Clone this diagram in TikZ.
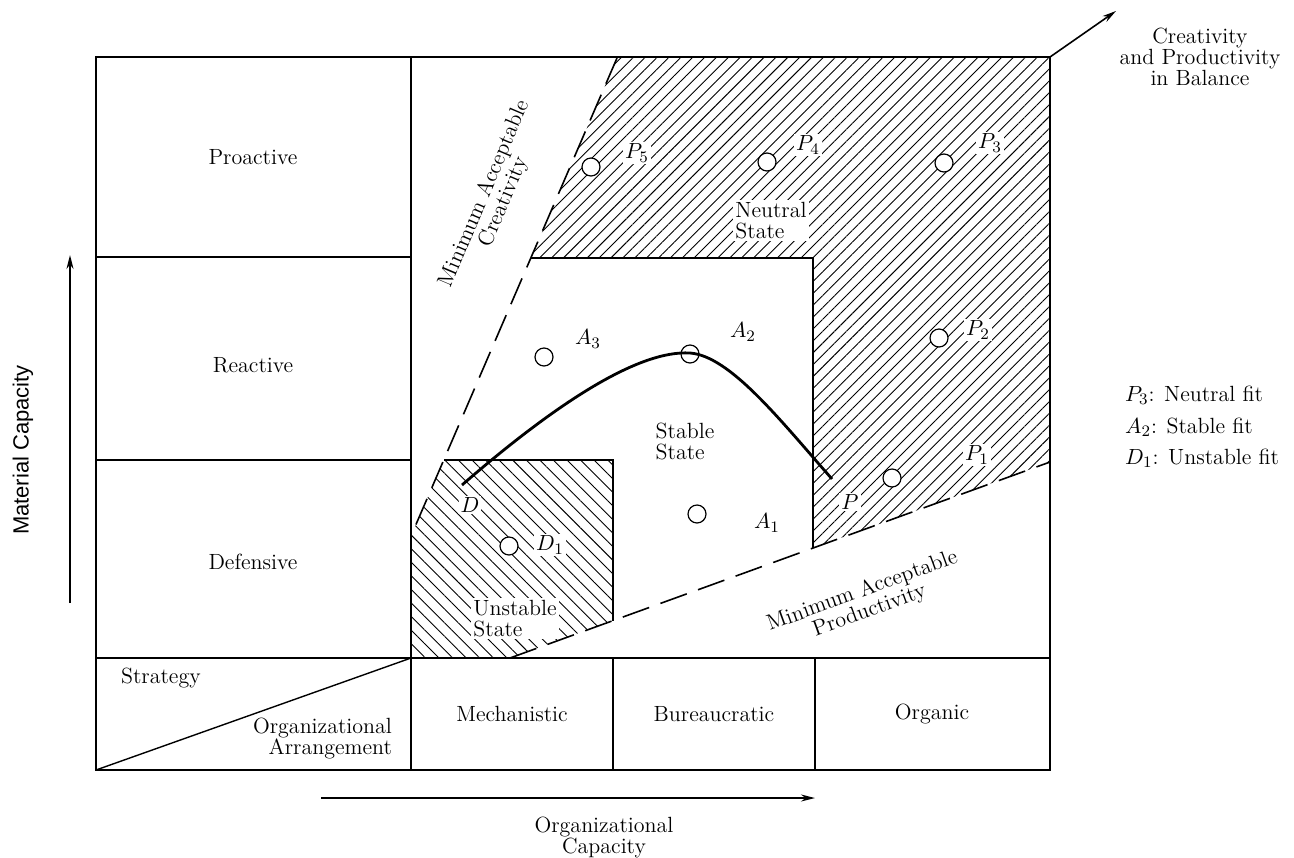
\documentclass[tikz,border=0pt]{standalone}
\usepackage{fontspec}
\newfontfamily\labsans{Liberation Sans}
\usetikzlibrary{arrows.meta,patterns.meta}
\begin{document}
\begin{tikzpicture}[x=0.5pt,y=-0.5pt,
  font=\fontsize{11}{10.5}\selectfont,
  frame/.style={line width=1pt},
  grid/.style={line width=0.7pt},
  bound/.style={line width=0.8pt},
  limit/.style={line width=0.8pt,dash pattern=on 14pt off 6pt},
  hatchA/.style={pattern={Lines[angle=45,distance=4.2pt,line width=0.45pt]}},
  hatchB/.style={pattern={Lines[angle=-45,distance=4.8pt,line width=0.45pt]}},
  pt/.style={circle,draw,fill=white,line width=0.6pt,minimum size=9pt,inner sep=0pt},
  dotpt/.style={pt,path picture={\fill (path picture bounding box.center) circle (1.2pt);}},
  lab/.style={inner sep=1pt},
  wlab/.style={inner sep=1pt,fill=white},
  axis/.style={line width=0.8pt,-{Stealth[length=7pt,width=3.5pt]}}]
\useasboundingbox (0,0) rectangle (1294,857);

% hatched regions
\fill[hatchA] (617,58) -- (1050,58) -- (1050,462) -- (813,548) -- (813,258) -- (531,258) -- cycle;
\fill[hatchB] (411,536) -- (444,460) -- (613,460) -- (613,620.6) -- (510,658) -- (411,658) -- cycle;

% frame and grid
\draw[frame] (96,57) rectangle (1050,770);
\draw[grid] (411,57) -- (411,770);
\draw[grid] (96,257) -- (411,257);
\draw[grid] (96,460) -- (411,460);
\draw[grid] (96,658) -- (1050,658);
\draw[grid] (613,658) -- (613,770);
\draw[grid] (815,658) -- (815,770);
\draw[grid] (96,770) -- (411,658);

% region boundaries
\draw[bound] (531,258) -- (813,258) -- (813,548);
\draw[bound] (444,460) -- (613,460) -- (613,620.6);

% limit lines
\coordinate (c1) at (617,58);
\coordinate (c2) at (411,536);
\coordinate (q1) at (510,658);
\coordinate (q2) at (1050,462);
\draw[limit] (c1) -- (c2);
\draw[limit] (q1) -- (q2);

% curve
\draw[line width=1.4pt] (462,485) .. controls (560,400) and (640,350) .. (690,353)
  .. controls (730,356) and (780,420) .. (832,479);

% points
\node[pt] (p5) at (591,167) {};
\node[pt] (p4) at (767,162) {};
\node[dotpt] (p3) at (944,163) {};
\node[pt] (p2) at (939,338) {};
\node[pt] (p1) at (892,478) {};
\node[pt] (a3) at (544,357) {};
\node[pt,fill=none] (a2) at (690,354) {};
\node[pt] (a1) at (697,514) {};
\node[dotpt] (d1) at (509,546) {};

% point labels
\node[wlab] (lp5) at (637,153) {$P_5$};
\node[wlab] (lp4) at (808,145) {$P_4$};
\node[wlab] (lp3) at (990,143) {$P_3$};
\node[wlab] (lp2) at (978,330) {$P_2$};
\node[wlab] (lp1) at (977,455) {$P_1$};
\node[wlab] (lp) at (850,502) {$P$};
\node[lab] (la3) at (588,339) {$A_3$};
\node[lab] (la2) at (743,332) {$A_2$};
\node[lab] (la1) at (767,523) {$A_1$};
\node[wlab] (ld) at (470,505) {$D$};
\node[wlab] (ld1) at (550,545) {$D_1$};

% state labels
\node[wlab,align=left,anchor=north west] (neutral) at (733,200) {Neutral\\State};
\node[lab,align=left] (stable) at (685,441) {Stable\\State};
\node[wlab,align=left,anchor=north west] (unstable) at (471,598) {Unstable\\State};

% limit labels
\node[lab,align=center,rotate=67] (mac) at (494,198) {Minimum Acceptable\\Creativity};
\node[lab,align=center,rotate=20] (map) at (866,601) {Minimum Acceptable\\Productivity};

% row / column labels
\node (pro) at (253,157) {Proactive};
\node (rea) at (253,365) {Reactive};
\node (def) at (253,562) {Defensive};
\node[anchor=west] (str) at (114,678) {Strategy};
\node[align=right,anchor=east] (org) at (399,738) {Organizational\\Arrangement};
\node (mech) at (512,714) {Mechanistic};
\node (bur) at (714,714) {Bureaucratic};
\node (orgc) at (932,714) {Organic};

% axes
\coordinate (v0) at (70,603);
\coordinate (v1) at (70,255);
\draw[axis] (v0) -- (v1);
\node[rotate=90] (mc) at (23,450) {\labsans Material Capacity};
\coordinate (h0) at (321,798);
\coordinate (h1) at (815,798);
\draw[axis] (h0) -- (h1);
\node[align=center] (oc) at (604,837) {Organizational\\Capacity};

% balance arrow
\coordinate (b0) at (1050,57);
\coordinate (b1) at (1116,11);
\draw[axis] (b0) -- (b1);
\node[align=center] (bal) at (1200,57) {Creativity\\and Productivity\\in Balance};

% legend
\node[anchor=west] (leg1) at (1118,395) {$P_3$: Neutral fit};
\node[anchor=west] (leg2) at (1118,427) {$A_2$: Stable fit};
\node[anchor=west] (leg3) at (1118,458) {$D_1$: Unstable fit};
\end{tikzpicture}
\end{document}
